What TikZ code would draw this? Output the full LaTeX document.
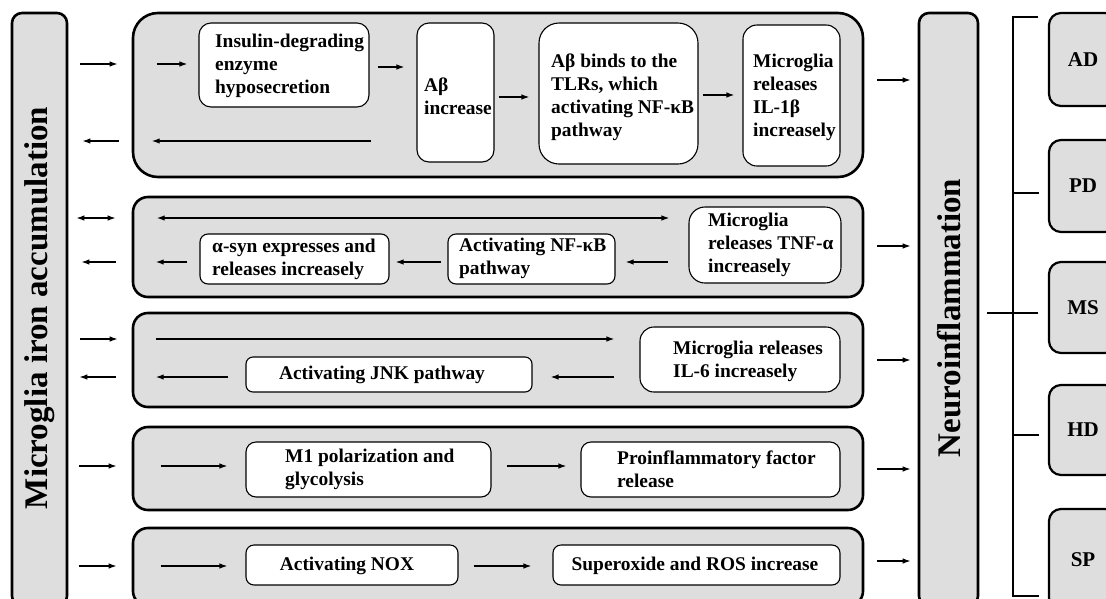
\documentclass[tikz,border=0pt]{standalone}
\usepackage{fontspec}
\setmainfont{Liberation Serif}
\usetikzlibrary{arrows.meta}
\definecolor{boxgray}{RGB}{222,222,222}
\begin{document}
\begin{tikzpicture}[x=1pt,y=-1pt,
  bigbox/.style={draw, line width=2.6pt, fill=boxgray, rounded corners=#1, inner sep=0pt},
  bigbox/.default=15,
  wbox/.style={draw, line width=1.1pt, fill=white, rounded corners=#1, inner sep=0pt},
  wbox/.default=10,
  txt/.style={inner sep=0pt, anchor=west, align=left, font=\fontsize{19.4}{23}\selectfont\bfseries},
  ctxt/.style={inner sep=0pt, anchor=center, align=center, font=\fontsize{19.4}{23}\selectfont\bfseries},
  dis/.style={draw, line width=2.2pt, fill=boxgray, rounded corners=12pt, inner sep=0pt, font=\fontsize{21}{25}\selectfont\bfseries},
  arr/.style={-{Latex[length=8pt,width=5.5pt]}, line width=1.3pt},
  darr/.style={{Latex[length=8pt,width=5.5pt]}-{Latex[length=8pt,width=5.5pt]}, line width=1.3pt},
  brk/.style={line width=2.2pt}
]
\useasboundingbox (0,0) rectangle (1106,598);
\clip (0,0) rectangle (1106,598);

% side boxes
\node[bigbox=10pt, minimum width=55, minimum height=593] (mia) at (39.5,309.5) {};
\node[rotate=90, inner sep=0pt, font=\fontsize{33}{40}\selectfont\bfseries] (miat) at (40,308) {Microglia iron accumulation};
\node[bigbox=10pt, minimum width=59, minimum height=593] (neuro) at (948.5,309.5) {};
\node[rotate=90, inner sep=0pt, font=\fontsize{33}{40}\selectfont\bfseries] (neurot) at (949,318) {Neuroinflammation};

% row boxes
\node[bigbox=25pt, minimum width=730, minimum height=164] (r1) at (498,95) {};
\node[bigbox=15pt, minimum width=730, minimum height=100] (r2) at (498,247) {};
\node[bigbox=15pt, minimum width=730, minimum height=94] (r3) at (498,360) {};
\node[bigbox=15pt, minimum width=730, minimum height=83] (r4) at (498,468.5) {};
\node[bigbox=15pt, minimum width=730, minimum height=78] (r5) at (498,567) {};

% disease boxes
\node[dis, minimum width=68, minimum height=93] (AD) at (1083,59.5) {AD};
\node[dis, minimum width=68, minimum height=92] (PD) at (1083,186) {PD};
\node[dis, minimum width=68, minimum height=91] (MS) at (1083,307.5) {MS};
\node[dis, minimum width=68, minimum height=90] (HD) at (1083,430) {HD};
\node[dis, minimum width=68, minimum height=101] (SP) at (1083,559.5) {SP};

% row 1 inner boxes
\node[wbox=12pt, minimum width=170, minimum height=84] (ins) at (284,65) {};
\node[txt] (inst) at (215,66) {Insulin-degrading\\enzyme\\hyposecretion};
\node[wbox=12pt, minimum width=77, minimum height=139] (ab) at (455.5,92.5) {};
\node[txt] (abt) at (424,96) {Aβ\\increase};
\node[wbox=20pt, minimum width=159, minimum height=141] (tlr) at (618.5,93.5) {};
\node[txt] (tlrt) at (551,97) {Aβ binds to the\\TLRs, which\\activating NF-κB\\pathway};
\node[wbox=14pt, minimum width=97, minimum height=141] (il1) at (791.5,95.5) {};
\node[txt] (il1t) at (753,97) {Microglia\\releases\\IL-1β\\increasely};

% row 2 inner boxes
\node[wbox=8pt, minimum width=189, minimum height=50] (asyn) at (294.5,259) {};
\node[txt] (asynt) at (212,259) {α-syn expresses and\\releases increasely};
\node[wbox=8pt, minimum width=167, minimum height=50] (nfkb) at (531.5,259) {};
\node[txt] (nfkbt) at (459,258.5) {Activating NF-κB\\pathway};
\node[wbox=16pt, minimum width=152, minimum height=76] (tnf) at (765,245) {};
\node[txt] (tnft) at (708,245) {Microglia\\releases TNF-α\\increasely};

% row 3 inner boxes
\node[wbox=7pt, minimum width=286, minimum height=35] (jnk) at (389,374.5) {};
\node[ctxt] (jnkt) at (382,375) {Activating JNK pathway};
\node[wbox=14pt, minimum width=200, minimum height=65] (il6) at (740,359.5) {};
\node[txt] (il6t) at (673,361) {Microglia releases\\IL-6 increasely};

% row 4 inner boxes
\node[wbox=10pt, minimum width=245, minimum height=55] (m1) at (368.5,469.5) {};
\node[txt] (m1t) at (285,469) {M1 polarization and\\glycolysis};
\node[wbox=10pt, minimum width=259, minimum height=55] (pro) at (710.5,469.5) {};
\node[txt] (prot) at (617,469) {Proinflammatory factor\\release};

% row 5 inner boxes
\node[wbox=8pt, minimum width=212, minimum height=40] (nox) at (352,565) {};
\node[ctxt] (noxt) at (347,566) {Activating NOX};
\node[wbox=8pt, minimum width=287, minimum height=40] (ros) at (696.5,565) {};
\node[ctxt] (rost) at (695,566) {Superoxide and ROS increase};

% ---- arrows row 1
\draw[arr, shorten <=12pt, shorten >=14pt] (mia.east |- 0,64) -- (r1.west |- 0,64);
\draw[arr, shorten <=25pt, shorten >=11pt] (r1.west |- 0,64) -- (ins.west |- 0,64);
\draw[arr, shorten <=8pt, shorten >=12pt] (ins.east |- 0,67) -- (ab.west |- 0,67);
\draw[arr, shorten <=4pt, shorten >=9pt] (ab.east |- 0,97) -- (tlr.west |- 0,97);
\draw[arr, shorten <=4pt, shorten >=8pt] (tlr.east |- 0,95) -- (il1.west |- 0,95);
\draw[arr, shorten <=45pt, shorten >=20pt] (ab.west |- 0,141) -- (r1.west |- 0,141);
\draw[arr, shorten <=13pt, shorten >=14pt] (r1.west |- 0,141) -- (mia.east |- 0,141);
\draw[arr, shorten <=13pt, shorten >=7pt] (r1.east |- 0,80) -- (neuro.west |- 0,80);

% ---- arrows row 2
\draw[darr, shorten <=8pt, shorten >=16pt] (mia.east |- 0,218) -- (r2.west |- 0,218);
\draw[arr, shorten <=16pt, shorten >=13pt] (r2.west |- 0,262) -- (mia.east |- 0,262);
\draw[darr, shorten <=25pt, shorten >=19pt] (r2.west |- 0,218) -- (tnf.west |- 0,218);
\draw[arr, shorten <=20pt, shorten >=10pt] (tnf.west |- 0,262) -- (nfkb.east |- 0,262);
\draw[arr, shorten <=6pt, shorten >=6pt] (nfkb.west |- 0,262) -- (asyn.east |- 0,262);
\draw[arr, shorten <=12pt, shorten >=24pt] (asyn.west |- 0,262) -- (r2.west |- 0,262);
\draw[arr, shorten <=13pt, shorten >=7pt] (r2.east |- 0,246) -- (neuro.west |- 0,246);

% ---- arrows row 3
\draw[arr, shorten <=12pt, shorten >=14pt] (mia.east |- 0,339) -- (r3.west |- 0,339);
\draw[arr, shorten <=16pt, shorten >=11pt] (r3.west |- 0,377) -- (mia.east |- 0,377);
\draw[arr, shorten <=24pt, shorten >=25pt] (r3.west |- 0,339) -- (il6.west |- 0,339);
\draw[arr, shorten <=25pt, shorten >=18pt] (il6.west |- 0,377) -- (jnk.east |- 0,377);
\draw[arr, shorten <=17pt, shorten >=24pt] (jnk.west |- 0,377) -- (r3.west |- 0,377);
\draw[arr, shorten <=13pt, shorten >=7pt] (r3.east |- 0,360) -- (neuro.west |- 0,360);

% ---- arrows row 4
\draw[arr, shorten <=11pt, shorten >=15pt] (mia.east |- 0,466) -- (r4.west |- 0,466);
\draw[arr, shorten <=29pt, shorten >=18pt] (r4.west |- 0,466) -- (m1.west |- 0,466);
\draw[arr, shorten <=15pt, shorten >=14pt] (m1.east |- 0,466) -- (pro.west |- 0,466);
\draw[arr, shorten <=13pt, shorten >=7pt] (r4.east |- 0,469) -- (neuro.west |- 0,469);

% ---- arrows row 5
\draw[arr, shorten <=11pt, shorten >=15pt] (mia.east |- 0,566) -- (r5.west |- 0,566);
\draw[arr, shorten <=29pt, shorten >=18pt] (r5.west |- 0,566) -- (nox.west |- 0,566);
\draw[arr, shorten <=15pt, shorten >=21pt] (nox.east |- 0,566) -- (ros.west |- 0,566);
\draw[arr, shorten <=13pt, shorten >=7pt] (r5.east |- 0,561) -- (neuro.west |- 0,561);

% ---- bracket
\coordinate (spT) at (1013,17);
\coordinate (spB) at (1013,596);
\draw[brk] (AD.west |- spT) ++(-10,0) -- (spT) -- (spB) -- ++(26,0);
\draw[brk] (spT |- 0,193) -- ++(26,0);
\draw[brk] (spT |- 0,435) -- ++(26,0);
\draw[brk, shorten <=8pt, shorten >=10pt] (neuro.east |- 0,313) -- (MS.west |- 0,313);
\end{tikzpicture}
\end{document}
